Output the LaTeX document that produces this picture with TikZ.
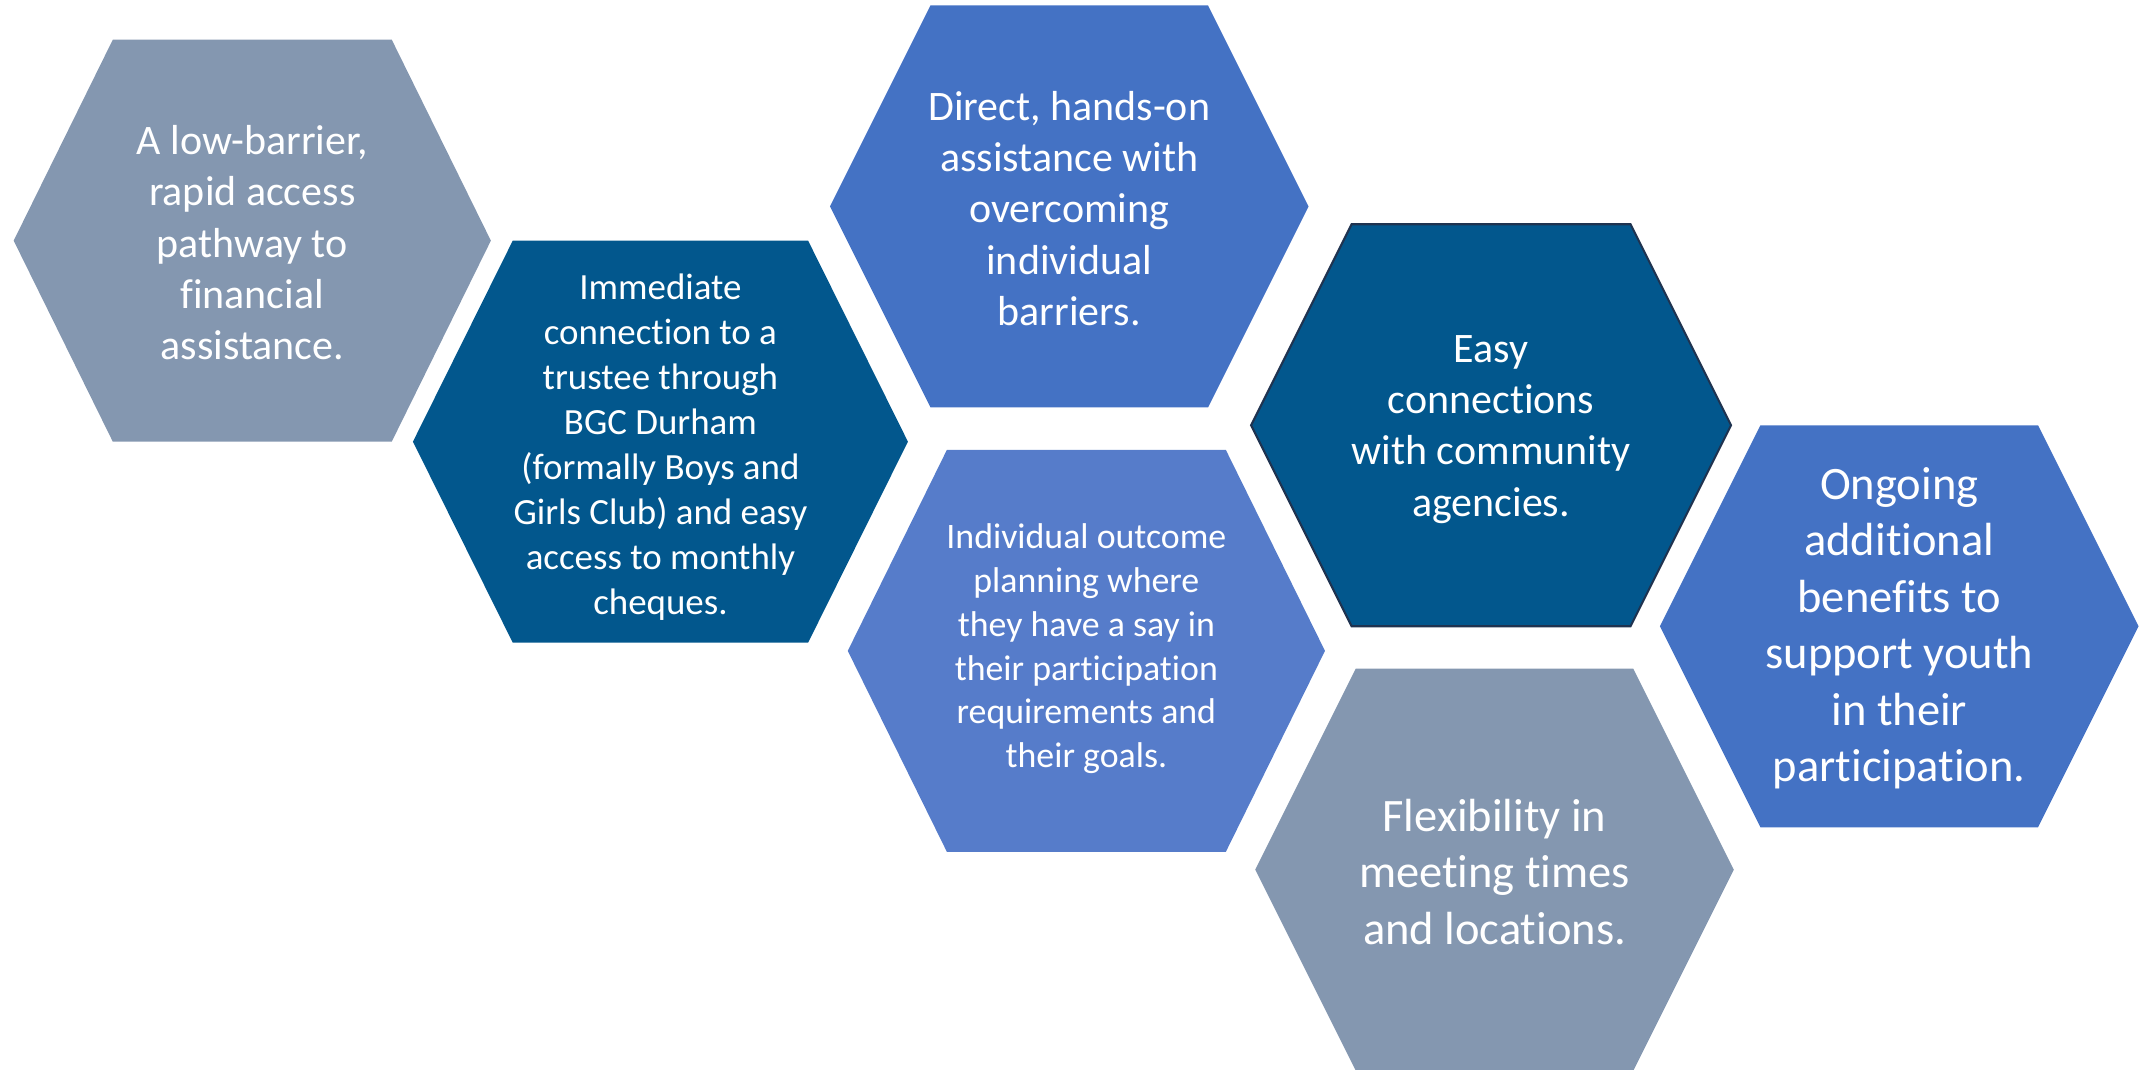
\documentclass[tikz,border=0pt]{standalone}
\usepackage{fontspec}
\setmainfont{Carlito}[Ligatures=NoCommon]

\definecolor{slate}{HTML}{8497B0}
\definecolor{navy}{HTML}{02578D}
\definecolor{accent}{HTML}{4472C4}
\definecolor{soft}{HTML}{567CCA}
\definecolor{rim}{HTML}{1F3350}

\tikzset{
  txt/.style={text=white, align=center, inner sep=0pt},
  textM/.style={txt, font=\fontsize{27}{33}\selectfont},
  textS/.style={txt, font=\fontsize{26.2}{32}\selectfont},
  textL/.style={txt, font=\fontsize{30.7}{37.5}\selectfont},
  textXL/.style={txt, font=\fontsize{34}{41.3}\selectfont},
}

\begin{document}
\begin{tikzpicture}[x=1pt,y=-1pt]
  \useasboundingbox (0,0) rectangle (1568,782);
  % centre x / centre y / half width / half top edge / colour
  \foreach \cx/\cy/\hw/\ht/\col in {184.5/176/174.5/102/slate, 483/323/181/108/navy,
      782/151/175/101.5/accent, 794.5/476/174.5/102/soft, 1090.5/311/175.5/102/navy,
      1093/636/175/101.5/slate, 1389/458/175/101.5/accent}
    \fill[\col] (\cx-\hw,\cy) -- (\cx-\ht,\cy-147) -- (\cx+\ht,\cy-147)
      -- (\cx+\hw,\cy) -- (\cx+\ht,\cy+147) -- (\cx-\ht,\cy+147) -- cycle;
  \draw[rim, line width=1.5pt] (915,311) -- (988.5,164) -- (1192.5,164)
    -- (1266,311) -- (1192.5,458) -- (988.5,458) -- cycle;

  \node[textL] (access) at (184.5,177.5) {A low-barrier,\\rapid access\\pathway to\\financial\\assistance.};
  \node[textM] (trustee) at (483,327) {Immediate\\connection to a\\trustee through\\BGC Durham\\(formally Boys and\\Girls Club) and easy\\access to monthly\\cheques.};
  \node[textL] (handson) at (782,152.5) {Direct, hands-on\\assistance with\\overcoming\\individual\\barriers.};
  \node[textS] (planning) at (794.5,474.5) {Individual outcome\\planning where\\they have a say in\\their participation\\requirements and\\their goals.};
  \node[textL] (agencies) at (1090.5,314) {Easy\\connections\\with community\\agencies.};
  \node[textXL] (flexible) at (1093,637.5) {Flexibility in\\meeting times\\and locations.};
  \node[textXL] (benefits) at (1389,459.5) {Ongoing\\additional\\benefits to\\support youth\\in their\\participation.};
\end{tikzpicture}
\end{document}
